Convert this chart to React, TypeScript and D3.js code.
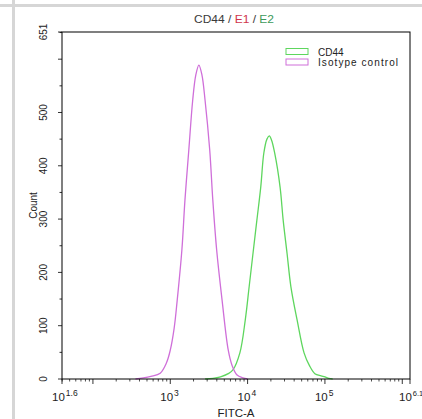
import React from "react";
import * as d3 from "d3";

const title = [
  { text: "CD44", color: "#3a3a3a" },
  { text: " / ", color: "#3a3a3a" },
  { text: "E1", color: "#d0344c" },
  { text: " / ", color: "#3a3a3a" },
  { text: "E2", color: "#3c9a5a" },
];

const xDomain = [Math.pow(10, 1.6), Math.pow(10, 6.1)];
const xLabels = [
  { value: Math.pow(10, 1.6), exp: "1.6" },
  { value: 1e3, exp: "3" },
  { value: 1e4, exp: "4" },
  { value: 1e5, exp: "5" },
  { value: Math.pow(10, 6.1), exp: "6.1" },
];
const yMax = 651;
const yLabels = [0, 100, 200, 300, 400, 500, 651];

const isoX = [355, 447, 562, 741, 891, 1000, 1122, 1230, 1413, 1549, 1738, 1950, 2138, 2344, 2570, 2818, 3236, 3548, 3981, 4677, 5623, 6310, 7244, 8710, 10000];
const isoY = [0, 2, 5, 11, 30, 54, 95, 148, 242, 336, 430, 523, 570, 589, 570, 523, 430, 336, 242, 148, 54, 25, 8, 2, 0];

const cdX = [2818, 3548, 4467, 5623, 6457, 7943, 9333, 10471, 11749, 13183, 14791, 16218, 17783, 19055, 20417, 22387, 26303, 28840, 32359, 36308, 43652, 53703, 63096, 74131, 89125, 100000, 112202, 125893];
const cdY = [0, 1, 4, 10, 17, 49, 111, 173, 236, 298, 360, 424, 450, 456, 448, 424, 360, 298, 236, 173, 111, 49, 25, 10, 6, 4, 1, 0];

const series = [
  { name: "CD44", xs: cdX, ys: cdY, color: "#5ed65e" },
  { name: "Isotype control", xs: isoX, ys: isoY, color: "#cf6fd9" },
];

const W = 422;
const H = 419;
const L = 62, R = 410, T = 32, B = 379;
const FONT = "'Liberation Sans', Arial, sans-serif";

export default function App() {
  const x = d3.scaleLog().domain(xDomain).range([L, R]);
  const y = d3.scaleLinear().domain([0, yMax]).range([B, T]);

  const minorX: number[] = [];
  const majorX: number[] = [];
  for (let e = 1; e <= 6; e++) {
    for (let m = 1; m <= 9; m++) {
      const v = m * Math.pow(10, e);
      if (v < xDomain[0] || v > xDomain[1]) continue;
      if (m === 1) majorX.push(v);
      else minorX.push(v);
    }
  }
  const yTicks = d3.range(0, 651, 50);

  const line = d3
    .line<[number, number]>()
    .x((d) => x(d[0]))
    .y((d) => Math.min(B, y(d[1])))
    .curve(d3.curveCatmullRom.alpha(0.5));

  return (
    <svg width={W} height={H} style={{ position: "absolute", left: 0, top: 0, background: "#fff" }} fontFamily={FONT}>
      <rect x={0} y={0} width={W} height={H} fill="#fff" />
      <rect x={12} y={0} width={3} height={H} fill="#d6d6d6" />
      <rect x={0} y={4} width={W} height={3} fill="#d6d6d6" />

      <text x={234} y={23} textAnchor="middle" fontSize={11} textLength={80} lengthAdjust="spacingAndGlyphs">
        {title.map((t, i) => (
          <tspan key={i} fill={t.color}>{t.text}</tspan>
        ))}
      </text>

      {series.map((s) => (
        <path
          key={s.name}
          d={line(s.xs.map((v, i) => [v, s.ys[i]] as [number, number])) || ""}
          fill="none"
          stroke={s.color}
          strokeWidth={1.3}
        />
      ))}

      <rect x={L} y={T} width={R - L} height={B - T} fill="none" stroke="#000" strokeWidth={1} />

      {yTicks.map((v) => (
        <line key={"y" + v} x1={L} x2={L - (v % 100 === 0 ? 4 : 2.5)} y1={y(v)} y2={y(v)} stroke="#000" strokeWidth={0.8} />
      ))}
      <line x1={L} x2={L - 4} y1={y(651)} y2={y(651)} stroke="#000" strokeWidth={0.8} />
      {yLabels.map((v) => (
        <text key={"yl" + v} transform={`translate(47,${y(v)}) rotate(-90)`} textAnchor="middle" fontSize={10} fill="#222">
          {v}
        </text>
      ))}
      <text transform={`translate(37,${(T + B) / 2}) rotate(-90)`} textAnchor="middle" fontSize={10} fill="#222">
        Count
      </text>

      {majorX.map((v) => (
        <line key={"xm" + v} x1={x(v)} x2={x(v)} y1={B} y2={B + 5} stroke="#000" strokeWidth={0.8} />
      ))}
      {minorX.map((v) => (
        <line key={"xn" + v} x1={x(v)} x2={x(v)} y1={B} y2={B + 2.5} stroke="#000" strokeWidth={0.7} />
      ))}
      <line x1={L} x2={L} y1={B} y2={B + 5} stroke="#000" strokeWidth={0.8} />
      <line x1={R} x2={R} y1={B} y2={B + 5} stroke="#000" strokeWidth={0.8} />
      {xLabels.map((l, i) => (
        <text key={"xl" + l.exp} x={x(l.value) - (i === xLabels.length - 1 ? 11 : 10)} y={401} fontSize={11.5} fill="#222">
          10
          <tspan fontSize={i === xLabels.length - 1 ? 7.5 : 8.5} dy={-5} dx={1}>{l.exp}</tspan>
        </text>
      ))}
      <text x={236} y={417} textAnchor="middle" fontSize={11.5} fill="#222">FITC-A</text>

      {series.map((s, i) => (
        <g key={"lg" + s.name}>
          <rect x={286} y={48.5 + i * 10.5} width={22} height={6} fill="none" stroke={s.color} strokeWidth={1} />
          {i === 0 ? (
            <text x={318} y={55.5} fontSize={10} fill="#222">{s.name}</text>
          ) : (
            <text x={318} y={66} fontSize={10} fill="#222" textLength={80} lengthAdjust="spacing">{s.name}</text>
          )}
        </g>
      ))}
    </svg>
  );
}
